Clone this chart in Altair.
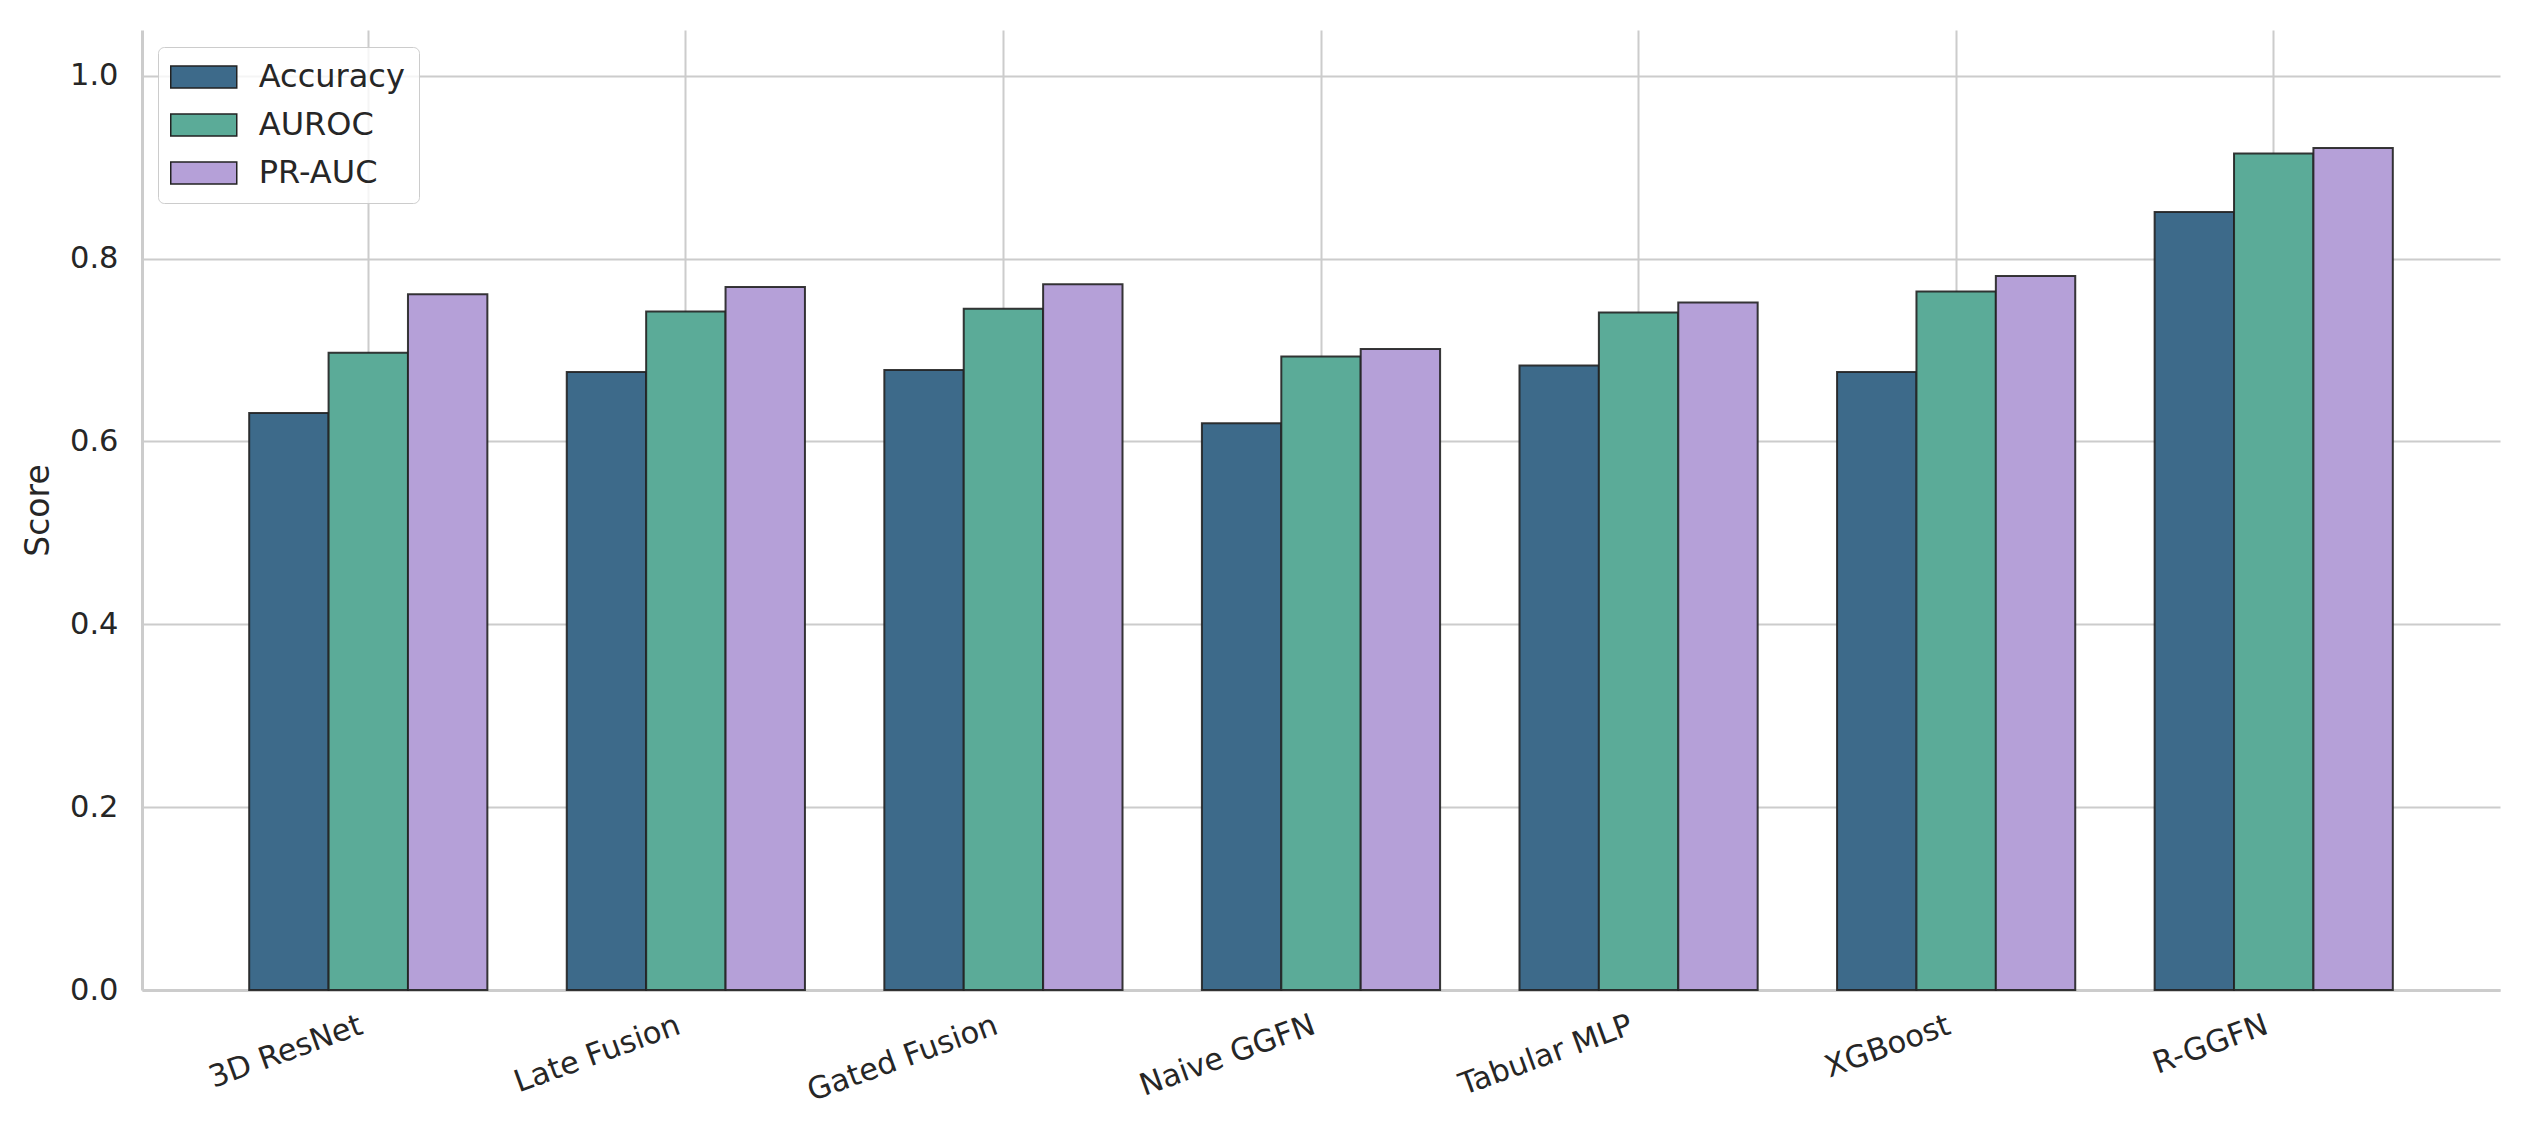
import altair as alt
import pandas as pd

models = ["3D ResNet", "Late Fusion", "Gated Fusion", "Naive GGFN", "Tabular MLP", "XGBoost", "R-GGFN"]
metrics = ["Accuracy", "AUROC", "PR-AUC"]
accuracy = [0.631, 0.676, 0.678, 0.620, 0.683, 0.676, 0.851]
auroc = [0.697, 0.742, 0.745, 0.693, 0.741, 0.764, 0.915]
pr_auc = [0.761, 0.769, 0.772, 0.701, 0.752, 0.781, 0.921]
colors = ["#3d6a8a", "#5bab98", "#b5a0d8"]
y_ticks = [0.0, 0.2, 0.4, 0.6, 0.8, 1.0]

rows = []
for series_name, series in zip(metrics, [accuracy, auroc, pr_auc]):
    for m, v in zip(models, series):
        rows.append({"model": m, "metric": series_name, "score": v})
df = pd.DataFrame(rows)

FONT = "DejaVu Sans"
TXT = "#262626"
GRID = "#cccccc"

chart = alt.Chart(df).mark_bar(stroke="#222222", strokeWidth=2, strokeOpacity=0.9).encode(
    x=alt.X(
        "model:N",
        sort=models,
        scale=alt.Scale(paddingInner=0.25, paddingOuter=0.3375),
        axis=alt.Axis(
            title=None,
            labelAngle=-20,
            labelAlign="right",
            labelBaseline="top",
            labelPadding=20,
            labelOffset=-12,
            labelLimit=0,
            bandPosition=0.5,
            grid=True,
            gridColor=GRID,
            gridWidth=2,
            ticks=False,
            tickSize=0,
            domain=True,
            domainColor=GRID,
            domainWidth=3,
            labelFontSize=30.5,
            labelColor=TXT,
            labelFont=FONT,
        ),
    ),
    xOffset=alt.XOffset("metric:N", sort=metrics, scale=alt.Scale(paddingInner=0, paddingOuter=0)),
    y=alt.Y(
        "score:Q",
        scale=alt.Scale(domain=[0, 1.05], nice=False, zero=True),
        axis=alt.Axis(
            title="Score",
            values=y_ticks,
            format=".1f",
            grid=True,
            gridColor=GRID,
            gridWidth=2,
            ticks=False,
            tickSize=0,
            domain=True,
            domainColor=GRID,
            domainWidth=3,
            labelPadding=24,
            labelFontSize=30.5,
            labelColor=TXT,
            labelFont=FONT,
            titleFont=FONT,
            titleFontSize=33,
            titleFontWeight="normal",
            titleColor=TXT,
            titlePadding=14,
        ),
    ),
    color=alt.Color(
        "metric:N",
        sort=metrics,
        scale=alt.Scale(domain=metrics, range=colors),
        legend=alt.Legend(
            title=None,
            orient="none",
            legendX=16,
            legendY=17,
            padding=14,
            fillColor="rgba(255,255,255,0.8)",
            strokeColor=GRID,
            cornerRadius=6,
            symbolType="M-2.2,-0.733H2.2V0.733H-2.2Z",
            symbolSize=900,
            symbolStrokeColor="#222222",
            symbolStrokeWidth=1.5,
            symbolOffset=15.75,
            symbolOpacity=1,
            labelOffset=39,
            labelFontSize=32,
            labelFont=FONT,
            labelColor=TXT,
            rowPadding=16,
        ),
    ),
).properties(
    width=2358,
    height=960,
    padding={"left": 134, "top": 22, "right": 20, "bottom": 125},
    autosize=alt.AutoSizeParams(type="none"),
).configure(font=FONT).configure_view(stroke=None)

chart.save("out.html", embed_options={"renderer": "svg", "actions": False})
